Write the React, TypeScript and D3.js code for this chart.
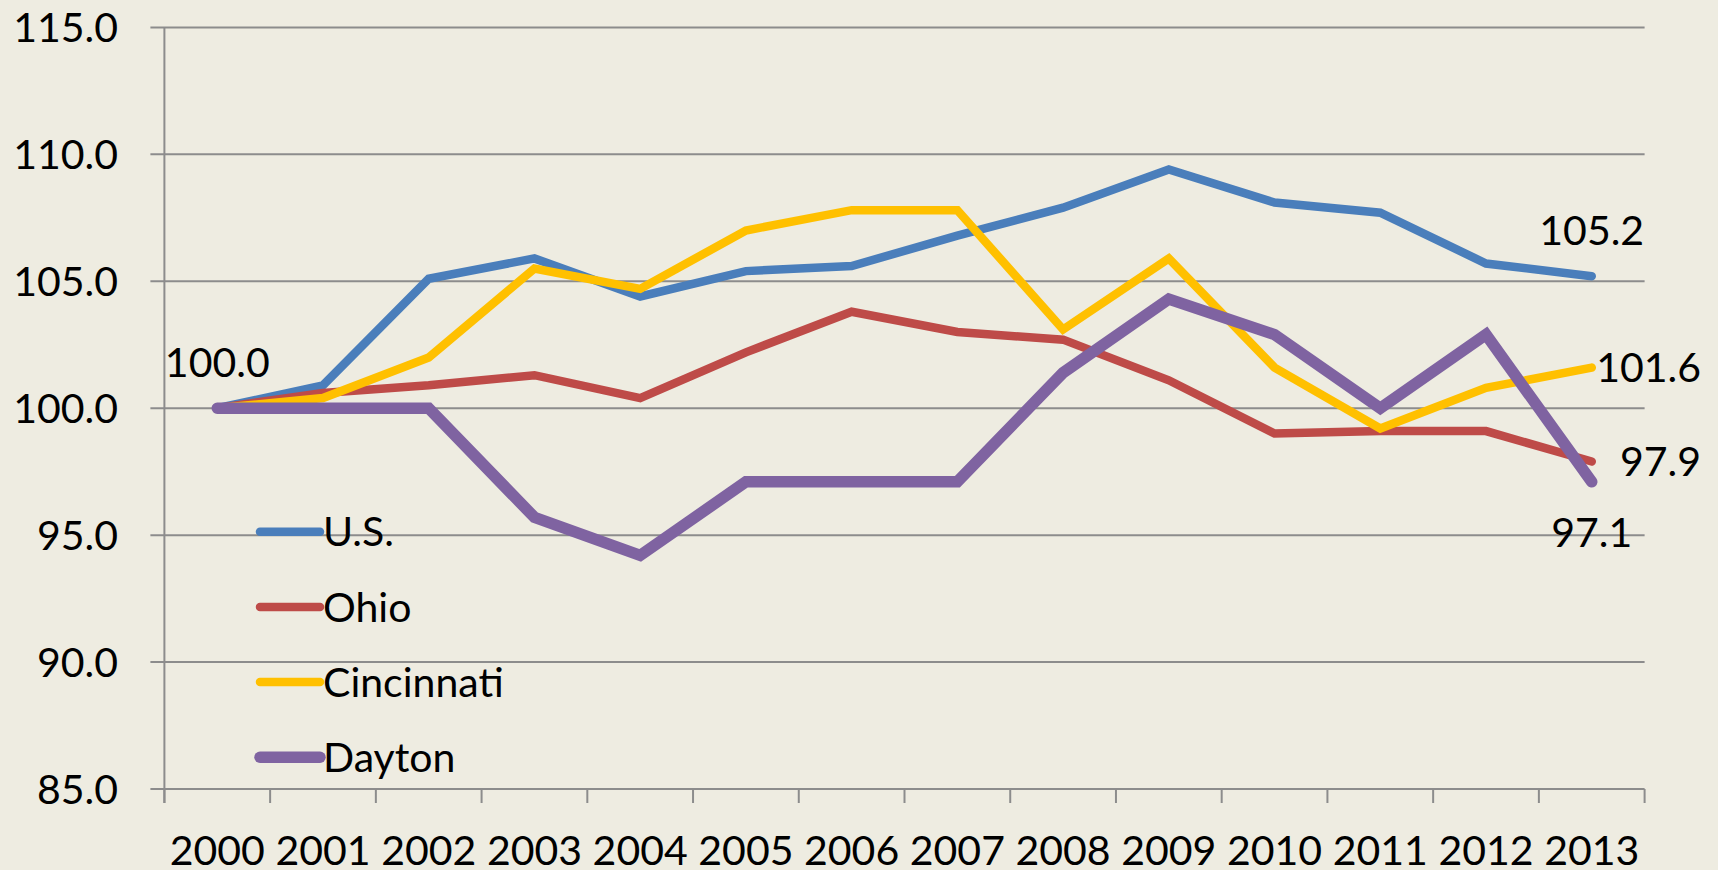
import React from 'react';
import * as d3 from 'd3';

const years = ['2000', '2001', '2002', '2003', '2004', '2005', '2006', '2007', '2008', '2009', '2010', '2011', '2012', '2013'];
const usValues = [100.0, 100.9, 105.1, 105.9, 104.4, 105.4, 105.6, 106.8, 107.9, 109.4, 108.1, 107.7, 105.7, 105.2];
const ohioValues = [100.0, 100.6, 100.9, 101.3, 100.4, 102.2, 103.8, 103.0, 102.7, 101.1, 99.0, 99.1, 99.1, 97.9];
const cincinnatiValues = [100.0, 100.4, 102.0, 105.5, 104.7, 107.0, 107.8, 107.8, 103.1, 105.9, 101.6, 99.2, 100.8, 101.6];
const daytonValues = [100.0, 100.0, 100.0, 95.7, 94.2, 97.1, 97.1, 97.1, 101.4, 104.3, 102.9, 100.0, 102.9, 97.1];
const seriesNames = ['U.S.', 'Ohio', 'Cincinnati', 'Dayton'];
const yTicks = [85, 90, 95, 100, 105, 110, 115];

const W = 1718;
const H = 870;
const FONT = 'Lato, "Open Sans", sans-serif';
const FS = 41;
const BG = '#EEECE1';
const GRID = '#8C8C8C';

const series = [
  { name: seriesNames[0], values: usValues, color: '#4A7EBB', width: 8.5 },
  { name: seriesNames[1], values: ohioValues, color: '#BE4B48', width: 8.5 },
  { name: seriesNames[2], values: cincinnatiValues, color: '#FFC000', width: 8.5 },
  { name: seriesNames[3], values: daytonValues, color: '#7F63A1', width: 11.5 },
];

// data labels: [series index, point index, placement]
const labels: [number, number, string][] = [
  [0, 0, 'above'],
  [0, 13, 'above'],
  [2, 13, 'right'],
  [1, 13, 'right'],
  [3, 13, 'below'],
];

export default function App() {
  const left = 164.4;
  const right = 1644.6;
  const top = 27.4;
  const bottom = 789;

  const x = d3.scaleBand<string>().domain(years).range([left, right]).paddingInner(0).paddingOuter(0);
  const y = d3.scaleLinear().domain([85, 115]).range([bottom, top]);
  const cx = (yr: string) => (x(yr) as number) + x.bandwidth() / 2;
  const fmt = d3.format('.1f');

  const line = d3
    .line<number>()
    .x((_, i) => cx(years[i]))
    .y((v) => y(v));

  const capHalf = FS * 0.36;
  const tickLen = 14;
  const boundaries = years.map((yr) => x(yr) as number).concat([right]);

  const legendX0 = 260;
  const legendX1 = 320;
  const legendY0 = 531.7;
  const legendStep = 75.2;

  return (
    <svg width={W} height={H} style={{ position: 'fixed', left: 0, top: 0 }} fontFamily={FONT}>
      <rect x={0} y={0} width={W} height={H} fill={BG} />
      {/* gridlines and y ticks */}
      {yTicks.map((t) => (
        <line key={'g' + t} x1={left - tickLen} x2={right} y1={y(t)} y2={y(t)} stroke={GRID} strokeWidth={2} />
      ))}
      {/* y axis */}
      <line x1={left} x2={left} y1={top} y2={bottom + tickLen} stroke={GRID} strokeWidth={2} />
      {/* x ticks */}
      {boundaries.map((b, i) => (
        <line key={'xt' + i} x1={b} x2={b} y1={bottom} y2={bottom + tickLen} stroke={GRID} strokeWidth={2} />
      ))}
      {/* y labels */}
      {yTicks.map((t) => (
        <text key={'yl' + t} x={118} y={y(t) + capHalf} textAnchor="end" fontSize={FS} fill="#000">
          {fmt(t)}
        </text>
      ))}
      {/* x labels */}
      {years.map((yr) => (
        <text key={'xl' + yr} x={cx(yr)} y={bottom + 76} textAnchor="middle" fontSize={FS} fill="#000">
          {yr}
        </text>
      ))}
      {/* series */}
      {series.map((s) => (
        <path
          key={s.name}
          d={line(s.values) as string}
          fill="none"
          stroke={s.color}
          strokeWidth={s.width}
          strokeLinecap="round"
          strokeLinejoin="miter"
        />
      ))}
      {/* data labels */}
      {labels.map(([si, pi, pos], k) => {
        const v = series[si].values[pi];
        const px = cx(years[pi]);
        const py = y(v);
        let tx = px;
        let ty = py;
        let anchor: 'middle' | 'end' | 'start' = 'middle';
        if (pos === 'above') {
          ty = py - 31.5;
        } else if (pos === 'below') {
          ty = py + 65;
        } else {
          tx = W - 17;
          ty = py + capHalf;
          anchor = 'end';
        }
        return (
          <text key={'dl' + k} x={tx} y={ty} textAnchor={anchor} fontSize={FS} fill="#000">
            {fmt(v)}
          </text>
        );
      })}
      {/* legend */}
      {series.map((s, i) => {
        const ly = legendY0 + i * legendStep;
        return (
          <g key={'lg' + s.name}>
            <line x1={legendX0} x2={legendX1} y1={ly} y2={ly} stroke={s.color} strokeWidth={s.width} strokeLinecap="round" />
            <text x={323} y={ly + capHalf} fontSize={FS} fill="#000">
              {s.name}
            </text>
          </g>
        );
      })}
    </svg>
  );
}
